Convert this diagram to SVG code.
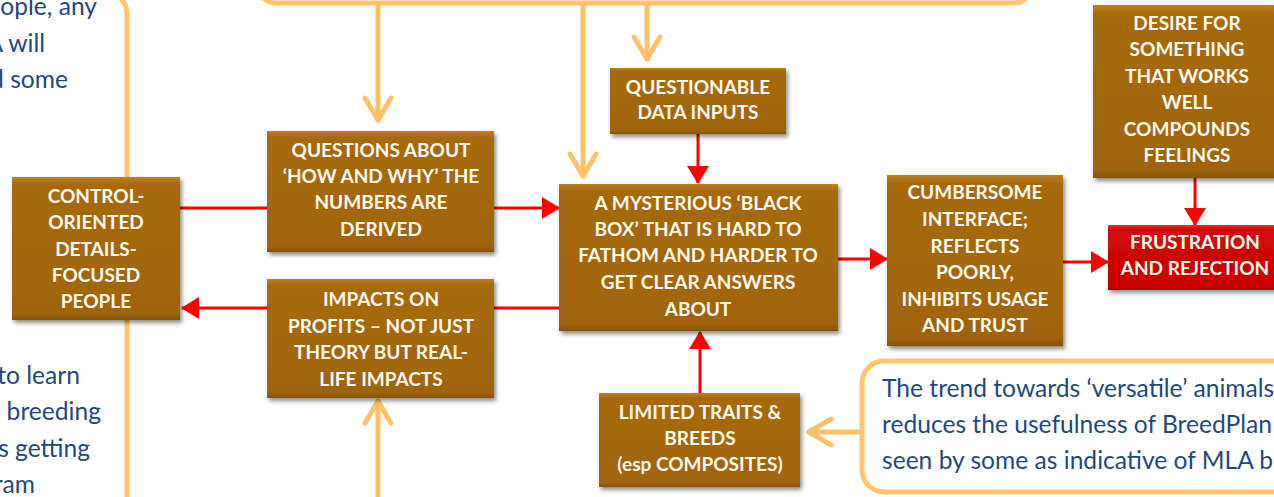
<svg xmlns="http://www.w3.org/2000/svg" width="1274" height="497" viewBox="0 0 1274 497">
<defs>
<linearGradient id="brown" x1="0" y1="0" x2="0" y2="1">
<stop offset="0" stop-color="#C08020"/>
<stop offset="0.05" stop-color="#A66A0D"/>
<stop offset="0.95" stop-color="#A0640A"/>
<stop offset="1" stop-color="#84520A"/>
</linearGradient>
<linearGradient id="red" x1="0" y1="0" x2="0" y2="1">
<stop offset="0" stop-color="#E83030"/>
<stop offset="0.07" stop-color="#D00808"/>
<stop offset="0.95" stop-color="#C80404"/>
<stop offset="1" stop-color="#A00000"/>
</linearGradient>
<filter id="shadow" x="-10%" y="-10%" width="125%" height="130%">
<feDropShadow dx="2" dy="3" stdDeviation="2" flood-color="#000" flood-opacity="0.45"/>
</filter>
<marker id="redhead" viewBox="0 0 18 22" refX="17" refY="11" markerWidth="18" markerHeight="22" markerUnits="userSpaceOnUse" orient="auto">
<path d="M0,0 L18,11 L0,22 z" fill="#FF0000"/>
</marker>
<marker id="orhead" viewBox="-28 -18 34 36" refX="0" refY="0" markerWidth="34" markerHeight="36" markerUnits="userSpaceOnUse" orient="auto" overflow="visible">
<path d="M-22,-13 L0,0 L-22,13" fill="none" stroke="#FFC06A" stroke-width="5" stroke-linecap="round" stroke-linejoin="round"/>
</marker>
</defs>
<style>
.node rect{fill:url(#brown);filter:url(#shadow);}
.node.alert rect{fill:url(#red);}
.lbl{font-family:Lato,"Open Sans","Liberation Sans",sans-serif;font-weight:700;font-size:19px;fill:#FFF8EC;text-anchor:middle;}
.body{font-family:Lato,"Open Sans","Liberation Sans",sans-serif;font-size:24.6px;fill:#1F497D;}
.callout{fill:none;stroke:#FFC46E;stroke-width:5;}
.red{stroke:#FF0000;stroke-width:3;fill:none;}
.orange{stroke:#FFC06A;stroke-width:5;fill:none;stroke-linecap:round;}
</style>
<rect width="1274" height="497" fill="#FFFFFF"/>

<g id="callouts">
<rect class="callout" x="-300" y="-8" width="427" height="620" rx="22"/>
<rect class="callout" x="258" y="-100" width="774" height="103" rx="18"/>
<rect class="callout" x="862" y="361" width="480" height="131" rx="22" stroke-width="4"/>
<g class="body">
<text x="97" y="15" text-anchor="end">ople, any</text>
<text x="45" y="52" text-anchor="end">A will</text>
<text x="68" y="88" text-anchor="end">d some</text>
<text x="80" y="384" text-anchor="end">to learn</text>
<text x="101" y="420" text-anchor="end">breeding</text>
<text x="90" y="457" text-anchor="end">s getting</text>
<text x="35" y="493" text-anchor="end">ram</text>
<text x="882" y="397">The trend towards ‘versatile’ animals</text>
<text x="882" y="433">reduces the usefulness of BreedPlan</text>
<text x="882" y="469">seen by some as indicative of MLA b</text>
</g>
</g>

<g id="connectors">
<line class="red" x1="180" y1="208" x2="267" y2="208"/>
<line class="red" x1="494" y1="208" x2="559" y2="208" marker-end="url(#redhead)"/>
<line class="red" x1="559" y1="308" x2="494" y2="308"/>
<line class="red" x1="267" y1="308" x2="182" y2="308" marker-end="url(#redhead)"/>
<line class="red" x1="698" y1="134" x2="698" y2="183" marker-end="url(#redhead)"/>
<line class="red" x1="700" y1="393" x2="700" y2="332" marker-end="url(#redhead)"/>
<line class="red" x1="838" y1="259" x2="887" y2="259" marker-end="url(#redhead)"/>
<line class="red" x1="1063" y1="262" x2="1108" y2="262" marker-end="url(#redhead)"/>
<line class="red" x1="1195" y1="178" x2="1195" y2="225" marker-end="url(#redhead)"/>
<line class="orange" x1="378" y1="4" x2="378" y2="120" marker-end="url(#orhead)"/>
<line class="orange" x1="583" y1="4" x2="583" y2="176" marker-end="url(#orhead)"/>
<line class="orange" x1="647" y1="4" x2="647" y2="59" marker-end="url(#orhead)"/>
<line class="orange" x1="378" y1="500" x2="378" y2="401" marker-end="url(#orhead)"/>
<line class="orange" x1="861" y1="432" x2="809" y2="432" marker-end="url(#orhead)"/>
</g>

<g id="control" class="node">
<rect x="12" y="177" width="168" height="143"/>
<text class="lbl" x="96" y="203">CONTROL-</text>
<text class="lbl" x="96" y="229">ORIENTED</text>
<text class="lbl" x="96" y="256">DETAILS-</text>
<text class="lbl" x="96" y="282">FOCUSED</text>
<text class="lbl" x="96" y="308">PEOPLE</text>
</g>
<g id="questions" class="node">
<rect x="267" y="131" width="227" height="121"/>
<text class="lbl" x="381" y="157">QUESTIONS ABOUT</text>
<text class="lbl" x="381" y="183">‘HOW AND WHY’ THE</text>
<text class="lbl" x="381" y="209">NUMBERS ARE</text>
<text class="lbl" x="381" y="236">DERIVED</text>
</g>
<g id="impacts" class="node">
<rect x="267" y="279" width="227" height="119"/>
<text class="lbl" x="381" y="306">IMPACTS ON</text>
<text class="lbl" x="381" y="333">PROFITS – NOT JUST</text>
<text class="lbl" x="381" y="359">THEORY BUT REAL-</text>
<text class="lbl" x="381" y="386">LIFE IMPACTS</text>
</g>
<g id="datainputs" class="node">
<rect x="610" y="68" width="176" height="66"/>
<text class="lbl" x="698" y="94">QUESTIONABLE</text>
<text class="lbl" x="698" y="119">DATA INPUTS</text>
</g>
<g id="blackbox" class="node">
<rect x="559" y="184" width="279" height="147"/>
<text class="lbl" x="698" y="210">A MYSTERIOUS ‘BLACK</text>
<text class="lbl" x="698" y="236">BOX’ THAT IS HARD TO</text>
<text class="lbl" x="698" y="262">FATHOM AND HARDER TO</text>
<text class="lbl" x="698" y="289">GET CLEAR ANSWERS</text>
<text class="lbl" x="698" y="316">ABOUT</text>
</g>
<g id="limited" class="node">
<rect x="599" y="393" width="201" height="94"/>
<text class="lbl" x="700" y="419">LIMITED TRAITS &amp;</text>
<text class="lbl" x="700" y="445">BREEDS</text>
<text class="lbl" x="700" y="471">(esp COMPOSITES)</text>
</g>
<g id="cumbersome" class="node">
<rect x="887" y="175" width="176" height="171"/>
<text class="lbl" x="975" y="199">CUMBERSOME</text>
<text class="lbl" x="975" y="226">INTERFACE;</text>
<text class="lbl" x="975" y="253">REFLECTS</text>
<text class="lbl" x="975" y="279">POORLY,</text>
<text class="lbl" x="975" y="306">INHIBITS USAGE</text>
<text class="lbl" x="975" y="332">AND TRUST</text>
</g>
<g id="desire" class="node">
<rect x="1093" y="5" width="188" height="173"/>
<text class="lbl" x="1187" y="30">DESIRE FOR</text>
<text class="lbl" x="1187" y="56">SOMETHING</text>
<text class="lbl" x="1187" y="83">THAT WORKS</text>
<text class="lbl" x="1187" y="109">WELL</text>
<text class="lbl" x="1187" y="136">COMPOUNDS</text>
<text class="lbl" x="1187" y="162">FEELINGS</text>
</g>
<g id="frustration" class="node alert">
<rect x="1108" y="225" width="174" height="65"/>
<text class="lbl" x="1195" y="249">FRUSTRATION</text>
<text class="lbl" x="1195" y="275">AND REJECTION</text>
</g>
</svg>
